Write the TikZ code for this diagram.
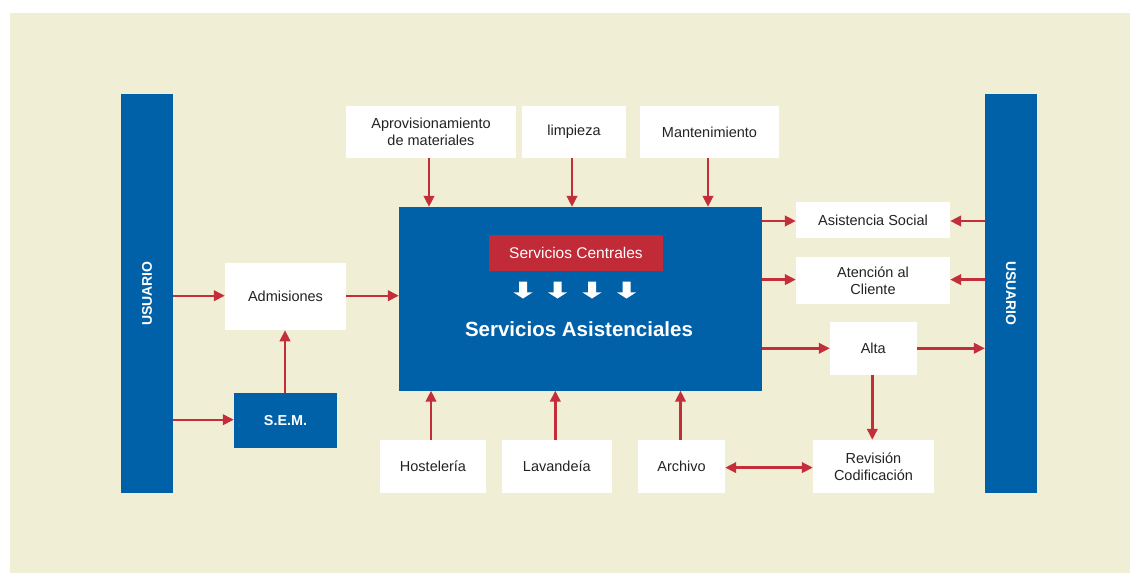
\documentclass[tikz,border=0pt]{standalone}
\usepackage{fontspec}
\setmainfont{Liberation Sans}
\usetikzlibrary{arrows.meta}
\definecolor{bgbeige}{RGB}{240,238,213}
\definecolor{dblue}{RGB}{0,96,168}
\definecolor{boxred}{RGB}{193,42,55}
\definecolor{arrred}{RGB}{196,45,58}
\definecolor{txtgray}{RGB}{35,35,35}
\tikzset{
  whitebox/.style={fill=white, draw=none, inner sep=0pt, align=center, text=txtgray,
    font=\fontsize{14.5}{17}\selectfont},
  bluebar/.style={fill=dblue, draw=none, inner sep=0pt, text=white,
    font=\fontsize{14}{17}\selectfont\bfseries},
  arr/.style={draw=arrred, line width=2.4pt, -{Triangle[length=11pt,width=10.5pt]}},
  dblarr/.style={draw=arrred, line width=2.4pt, {Triangle[length=11pt,width=10.5pt]}-{Triangle[length=11pt,width=10.5pt]}},
  warrow/.style={fill=white, draw=none}
}
\begin{document}
\begin{tikzpicture}[x=1pt,y=-1pt]
\useasboundingbox (0,0) rectangle (1130,573);
\fill[white] (0,0) rectangle (1130,573);
\fill[bgbeige] (10,13) rectangle (1130,573);

% side bars
\node[bluebar, minimum width=52pt, minimum height=399pt] (usl) at (147,293.5) {};
\node[text=white, font=\fontsize{14}{17}\selectfont\bfseries, rotate=90] (usltxt) at (147,293.5) {USUARIO};
\node[bluebar, minimum width=52pt, minimum height=399pt] (usr) at (1011,293.5) {};
\node[text=white, font=\fontsize{14}{17}\selectfont\bfseries, rotate=-90] (usrtxt) at (1011,293.5) {USUARIO};

% top boxes
\node[whitebox, minimum width=170pt, minimum height=52pt] (aprov) at (431,132) {Aprovisionamiento\\de materiales};
\node[whitebox, minimum width=104pt, minimum height=52pt] (limp) at (574,132) {limpieza};
\node[whitebox, minimum width=139pt, minimum height=52pt] (mant) at (709.5,132) {Mantenimiento};

% main box
\node[fill=dblue, inner sep=0pt, minimum width=363pt, minimum height=183.5pt] (main) at (580.5,298.75) {};
\node[fill=boxred, inner sep=0pt, minimum width=174pt, minimum height=36pt, text=white,
  font=\fontsize{15.5}{18}\selectfont] (sc) at (576,253) {Servicios Centrales};
\node[text=white, font=\fontsize{20.5}{24}\selectfont\bfseries, inner sep=0pt] (sa) at (579,329) {Servicios Asistenciales};

% small white arrows
\foreach \cx in {523,557.5,592,626.5}{
  \fill[warrow] (\cx-4,281.5) -- (\cx+4,281.5) -- (\cx+4,292.3) -- (\cx+9.7,292.3)
    -- (\cx,298.5) -- (\cx-9.7,292.3) -- (\cx-4,292.3) -- cycle;
}

% left side
\node[whitebox, minimum width=121pt, minimum height=66.7pt] (adm) at (285.5,296.7) {Admisiones};
\node[bluebar, minimum width=103pt, minimum height=54.7pt, font=\fontsize{14.4}{17}\selectfont\bfseries] (sem) at (285.5,420.7) {S.E.M.};

% right side
\node[whitebox, minimum width=154pt, minimum height=36pt] (asoc) at (873,220) {Asistencia Social};
\node[whitebox, minimum width=154pt, minimum height=46.7pt] (aten) at (873,280.3) {Atención al\\Cliente};
\node[whitebox, minimum width=86.7pt, minimum height=52.7pt] (alta) at (873.3,348.3) {Alta};

% bottom boxes
\node[whitebox, minimum width=106pt, minimum height=52.7pt] (host) at (433,466.3) {Hostelería};
\node[whitebox, minimum width=109.7pt, minimum height=52.7pt] (lav) at (556.8,466.3) {Lavandeía};
\node[whitebox, minimum width=87pt, minimum height=52.7pt] (arch) at (681.5,466.3) {Archivo};
\node[whitebox, minimum width=121pt, minimum height=52.7pt] (rev) at (873.5,466.3) {Revisión\\Codificación};

% arrows top
\draw[arr] ([xshift=-2pt]aprov.south) -- ([xshift=-2pt]aprov.south |- main.north);
\draw[arr] ([xshift=-2pt]limp.south) -- ([xshift=-2pt]limp.south |- main.north);
\draw[arr] ([xshift=-1.5pt]mant.south) -- ([xshift=-1.5pt]mant.south |- main.north);

% arrows bottom
\draw[arr] ([xshift=-2pt]host.north) -- ([xshift=-2pt]host.north |- main.south);
\draw[arr] ([xshift=-1.5pt]lav.north) -- ([xshift=-1.5pt]lav.north |- main.south);
\draw[arr] ([xshift=-1pt]arch.north) -- ([xshift=-1pt]arch.north |- main.south);

% left arrows
\draw[arr] ([yshift=1pt]usl.east |- adm.west) -- ([yshift=1pt]adm.west);
\draw[arr] ([yshift=1pt]adm.east) -- ([yshift=1pt]adm.east -| main.west);
\draw[arr] ([yshift=1pt]usl.east |- sem.west) -- ([yshift=1pt]sem.west);
\draw[arr] ([xshift=-0.5pt]sem.north) -- ([xshift=-0.5pt]sem.north |- adm.south);

% right arrows
\draw[arr] ([yshift=-1pt]main.east |- asoc.west) -- ([yshift=-1pt]asoc.west);
\draw[arr] ([yshift=-1pt]usr.west |- asoc.east) -- ([yshift=-1pt]asoc.east);
\draw[arr] ([yshift=0.7pt]main.east |- aten.west) -- ([yshift=0.7pt]aten.west);
\draw[arr] ([yshift=0.7pt]usr.west |- aten.east) -- ([yshift=0.7pt]aten.east);
\draw[arr] (main.east |- alta.west) -- (alta.west);
\draw[arr] (alta.east) -- (alta.east -| usr.west);
\draw[arr] ([xshift=-1pt]alta.south) -- ([xshift=-1pt]alta.south |- rev.north);
\draw[dblarr] ([yshift=-1.3pt]arch.east) -- ([yshift=-1.3pt]rev.west);
\end{tikzpicture}
\end{document}
